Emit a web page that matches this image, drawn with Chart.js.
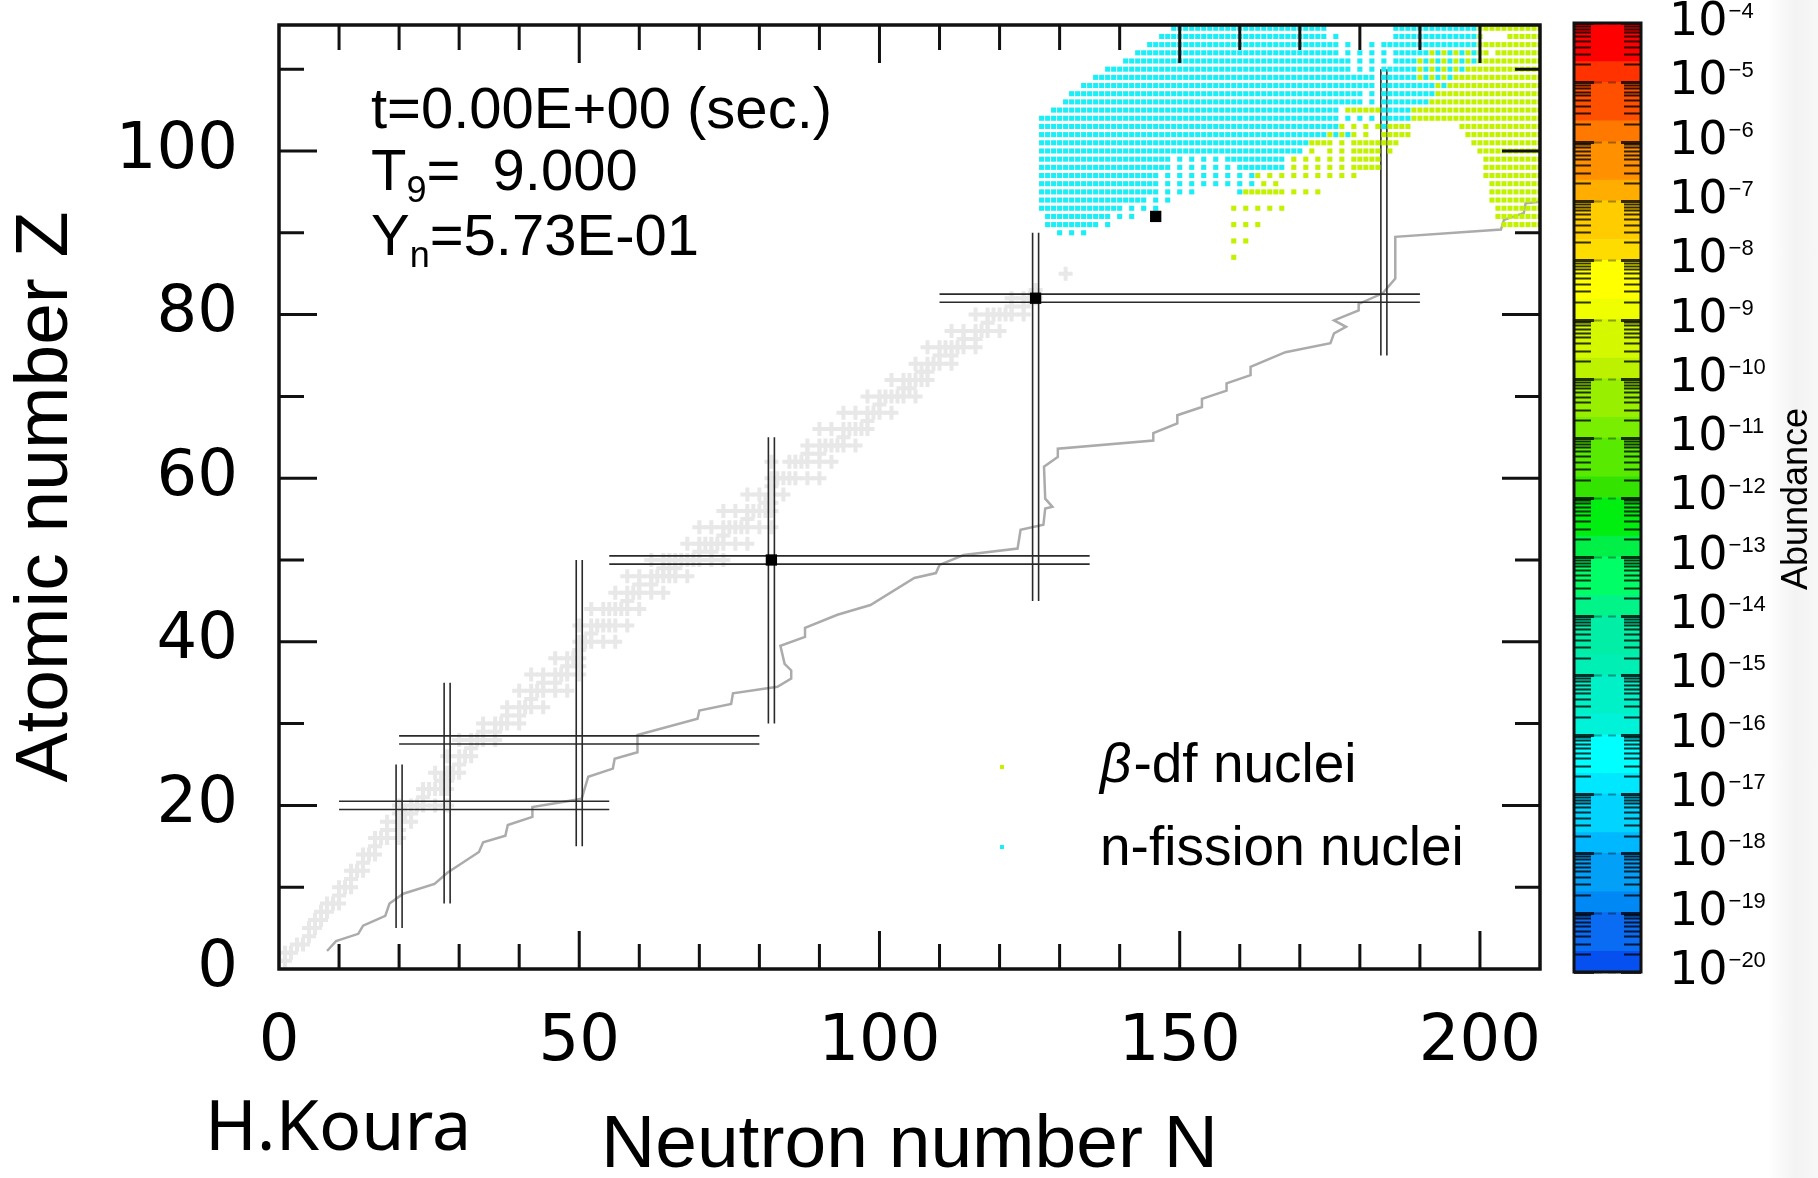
<!DOCTYPE html>
<html>
<head>
<meta charset="utf-8">
<script src="https://cdn.jsdelivr.net/npm/chart.js@4.4.0/dist/chart.umd.min.js"></script>
<style>
  html, body { margin: 0; padding: 0; }
  body { width: 1818px; height: 1178px; position: relative; overflow: hidden;
         background: linear-gradient(to right, #fff 0, #fff 1768px, #f3f3f3 1795px, #f7f7f7 1818px); }
  #chart { position: absolute; left: 0; top: 0; }
  #bar { position: absolute; left: 1560px; top: 0; }
</style>
</head>
<body>
<canvas id="chart" width="1560" height="1178"></canvas>
<canvas id="bar" width="258" height="1178"></canvas>
<script>
// ---- data ----

// stable nuclei (grey crosses): neutron numbers N for each Z (index = Z)
const stableN = [
  [], [0,1], [1,2], [3,4], [5], [5,6], [6,7], [7,8], [8,9,10], [10],
  [10,11,12], [12], [12,13,14], [14], [14,15,16], [16], [16,17,18,20], [18,20], [18,20,22], [20,21,22],
  [20,22,23,24,26,28], [24], [24,25,26,27,28], [27,28], [26,28,29,30], [30], [28,30,31,32], [32], [30,32,33,34,36], [34,36],
  [34,36,37,38,40], [38,40], [38,40,41,42,44], [42], [40,42,43,44,46,48], [44,46], [42,44,46,47,48,50], [48,50], [46,48,49,50], [50],
  [50,51,52,54,56], [52], [50,52,53,54,55,56,58], [], [52,54,55,56,57,58,60], [58], [56,58,59,60,62,64], [60,62], [58,60,62,63,64,65,66,68], [64,66],
  [62,64,65,66,67,68,69,70,72,74], [70,72], [68,70,71,72,73,74,76,78], [74], [70,72,74,75,76,77,78,80,82], [78], [74,76,78,79,80,81,82], [81,82], [78,80,82,84], [82],
  [82,83,84,85,86,88,90], [], [82,85,86,87,88,90,92], [88,90], [88,90,91,92,93,94,96], [94], [90,92,94,95,96,97,98], [98], [94,96,98,99,100,102], [100],
  [98,100,101,102,103,104,106], [104,105], [102,104,105,106,107,108], [107,108], [106,108,109,110,112], [110,112], [108,110,111,112,113,114,116], [114,116], [112,114,116,117,118,120], [118],
  [116,118,119,120,121,122,124], [122,124], [122,124,125,126], [126], [], [131]
];

// neutron drip line (grey stair line)
const dripN = [8, 9.5, 13.2, 14, 17.7, 18.4, 20.7, 25.9, 28.1, 33.3, 34, 37.7, 38.1, 42.2, 42.2, 50.4, 51.5, 55.6, 55.9, 59.7,
  59.7, 69.7, 70, 75.3, 75.6, 83, 85.3, 85.3, 84.2, 83.5, 87.6, 87.6, 93, 98.5, 105.8, 109.4, 110, 114, 123, 123.5,
  127.3, 127.6, 128.8, 127.6, 127.4, 129.7, 129.7, 145.6, 145.6, 149.6, 149.6, 153.7, 153.7, 157.8, 157.8, 161.8, 161.8, 167.6, 175.1, 175.7,
  177.7, 175.7, 179.8, 179.8, 183.8, 185.9, 185.9, 203.5, 204, 207.3, 207.6, 210];
const dripZ = [2.2, 3.4, 4.3, 5.3, 6.5, 8, 9.2, 10.4, 11.8, 14.3, 15.5, 16.3, 17.6, 18.6, 19.8, 20.8, 23.5, 24.5, 25.7, 26.5,
  28.6, 30.6, 31.6, 32.4, 33.7, 34.5, 35.5, 36.5, 37.3, 39.5, 40.6, 41.7, 43.3, 44.5, 47.8, 48.4, 49.4, 50.6, 51.4, 53.7,
  54.3, 56.3, 56.5, 57.5, 61.4, 62.6, 63.6, 64.6, 65.5, 66.7, 67.7, 68.7, 69.7, 70.7, 71.6, 72.6, 73.6, 75.4, 76.5, 77.7,
  78.5, 79.3, 80.5, 81.3, 82.6, 84.4, 89.5, 90.4, 91.6, 92.4, 93.6, 93.8];

// magic numbers (double lines)
const magicN = [20, 28, 50, 82, 126, 184];
const magicNZfrom = [5, 8, 15, 30, 45, 75];
const magicNZto = [25, 35, 50, 65, 90, 110];
const magicZ = [20, 28, 50, 82];
const magicZNfrom = [10, 20, 55, 110];
const magicZNto = [55, 80, 135, 190];

// marked nuclei (black squares) [N, Z]
const markedNuclei = [[82, 50], [126, 82], [146, 92]];

// n-fission nuclei (cyan): [Z, N from, N to, step]
const fissionRows = [
  [115,149,174],[115,186,199],
  [114,147,174],[114,176,176],[114,186,199],
  [113,145,176],[113,178,178],[113,182,182],[113,184,199],
  [112,143,176],[112,178,184,2],[112,186,191],[112,193,199,2],
  [111,141,178],[111,180,184,2],[111,186,189],[111,191,199,2],
  [110,138,178],[110,180,182,2],[110,184,189],[110,191,197,2],
  [109,136,182],[109,184,189],[109,191,195,2],
  [108,134,182],[108,184,192],[108,194,194],
  [107,132,180],[107,182,182],[107,184,192],
  [106,131,180],[106,182,182],[106,184,191],
  [105,129,176],[105,184,188],
  [104,127,176],[104,178,182,2],[104,184,188],
  [103,127,176],[103,184,184],
  [102,127,173],[102,174,178,2],
  [101,127,171],
  [100,127,170],
  [99,127,148],[99,150,156,2],[99,158,167],
  [98,127,148],[98,150,158,2],[98,160,167],
  [97,127,146],[97,148,162,2],
  [96,127,146],[96,148,162,2],
  [95,127,146],[95,148,152,2],[95,160,160],
  [94,127,144],[94,146,148,2],
  [93,127,140],[93,142,146,2],
  [92,128,138],[92,140,142,2],
  [91,128,136],[91,138,138],
  [90,130,134,2]
];

// beta-delayed fission nuclei (yellow-green): [Z, N from, N to, step]
const betaDfRows = [
  [115,200,210],
  [114,200,200],[114,205,210],
  [113,200,210],
  [112,192,198,2],[112,200,201],[112,203,210],
  [111,190,198,2],[111,200,210],
  [110,190,196,2],[110,198,210],
  [109,190,194,2],[109,196,210],
  [108,193,193],[108,195,210],
  [107,193,210],
  [106,192,210],
  [105,178,183],[105,189,210],
  [104,189,210],
  [103,177,183,2],[103,185,188],[103,197,210],
  [102,175,181,2],[102,184,188],[102,198,210],
  [101,172,174],[101,175,177,2],[101,179,186],[101,199,210],
  [100,172,172],[100,175,177,2],[100,179,183],[100,185,185],[100,200,210],
  [99,169,177,2],[99,179,183],[99,201,210],
  [98,169,177,2],[98,179,183],[98,201,210],
  [97,163,179,2],[97,201,210],
  [96,164,166,2],[96,202,210],
  [95,161,167],[95,169,173,2],[95,202,210],
  [94,202,210],
  [93,159,167,2],[93,203,210],
  [92,203,210],
  [91,159,163,2],[91,204,210],
  [89,159,161,2],
  [87,159,159]
];

// axis ticks
const xTickValues = [10,20,30,40,50,60,70,80,90,100,110,120,130,140,150,160,170,180,190,200];
const yTickValues = [10,20,30,40,50,60,70,80,90,100,110];

// colour bar: decades of abundance, from 10^-20 upwards
const abundanceTicks = [-4,-5,-6,-7,-8,-9,-10,-11,-12,-13,-14,-15,-16,-17,-18,-19,-20];
const decadeStart = [-20,-19,-18,-17,-16,-15,-14,-13,-12,-11,-10,-9,-8,-7,-6,-5];
const upperColors = ['#0a6cf2','#03a0f8','#00d4ff','#00ffff','#00f0c8','#00eea6','#00ff66','#00ee10','#58ea00','#98f000','#d4f800','#ffff00','#ffcc00','#ff9000','#ff5000','#ff0000'];
const lowerColors = ['#0650f0','#0088f4','#00b8ff','#00e8ff','#00f2d8','#00efb4','#00f488','#00f048','#34e400','#7aee00','#bcf200','#f0ff00','#ffdc00','#ffae00','#ff7800','#ff3200'];

// ---- build chart ----
const CYAN = '#1aeef6';
const LIME = '#c2f200';

function cells(rows) {
  const pts = [];
  rows.forEach(([z, n0, n1, step]) => {
    for (let n = n0; n <= n1; n += (step || 1)) pts.push({x: n, y: z});
  });
  return pts;
}

const stablePts = [];
stableN.forEach((ns, z) => ns.forEach(n => stablePts.push({x: n, y: z})));

const datasets = [];
datasets.push({
  label: 'marked', data: markedNuclei.map(([n, z]) => ({x: n, y: z})),
  pointStyle: 'rect', pointRadius: 8, pointBackgroundColor: '#000', pointBorderWidth: 0, order: 0
});
datasets.push({
  label: 'n-fission nuclei', data: cells(fissionRows),
  pointStyle: 'rect', pointRadius: 3.6, pointBackgroundColor: CYAN, pointBorderWidth: 0, order: 1
});
datasets.push({
  label: 'β-df nuclei', data: cells(betaDfRows),
  pointStyle: 'rect', pointRadius: 3.6, pointBackgroundColor: LIME, pointBorderWidth: 0, order: 1
});
magicN.forEach((n, i) => {
  [-0.5, 0.5].forEach(d => datasets.push({
    data: [{x: n + d, y: magicNZfrom[i]}, {x: n + d, y: magicNZto[i]}],
    showLine: true, pointRadius: 0, borderColor: '#2a2a2a', borderWidth: 1.6, order: 2
  }));
});
magicZ.forEach((z, i) => {
  [-0.5, 0.5].forEach(d => datasets.push({
    data: [{x: magicZNfrom[i], y: z + d}, {x: magicZNto[i], y: z + d}],
    showLine: true, pointRadius: 0, borderColor: '#2a2a2a', borderWidth: 1.6, order: 2
  }));
});
datasets.push({
  label: 'drip line', data: dripN.map((n, i) => ({x: n, y: dripZ[i]})),
  showLine: true, pointRadius: 0, borderColor: '#ababab', borderWidth: 2.5, order: 3
});
datasets.push({
  label: 'stable', data: stablePts,
  pointStyle: 'cross', pointRadius: 7, pointBorderWidth: 4, pointBorderColor: '#e8e8e8', order: 4
});

const overlay = {
  id: 'overlay',
  afterDatasetsDraw(chart) {
    const {ctx, chartArea: a, scales: {x, y}} = chart;
    ctx.save();
    ctx.strokeStyle = '#111';
    ctx.lineWidth = 3;
    ctx.beginPath();
    xTickValues.forEach(v => {
      const px = x.getPixelForValue(v);
      const len = v % 50 === 0 ? 38 : 25;
      ctx.moveTo(px, a.bottom); ctx.lineTo(px, a.bottom - len);
      ctx.moveTo(px, a.top); ctx.lineTo(px, a.top + len);
    });
    yTickValues.forEach(v => {
      const py = y.getPixelForValue(v);
      const len = v % 20 === 0 ? 38 : 25;
      ctx.moveTo(a.left, py); ctx.lineTo(a.left + len, py);
      ctx.moveTo(a.right, py); ctx.lineTo(a.right - len, py);
    });
    ctx.stroke();
    ctx.lineWidth = 3.5;
    ctx.strokeRect(a.left, a.top, a.right - a.left, a.bottom - a.top);
    ctx.restore();
  },
  afterDraw(chart) {
    const ctx = chart.ctx;
    ctx.save();
    ctx.fillStyle = '#000';
    ctx.textBaseline = 'alphabetic';
    ctx.textAlign = 'left';
    const big = '58px "Liberation Sans"', small = '36px "Liberation Sans"';
    ctx.font = big;
    ctx.fillText('t=0.00E+00 (sec.)', 371, 128);
    // T9 line
    let x0 = 371;
    ctx.fillText('T', x0, 190); x0 += ctx.measureText('T').width;
    ctx.font = small; ctx.fillText('9', x0, 202); x0 += ctx.measureText('9').width;
    ctx.font = big; ctx.fillText('=  9.000', x0, 190);
    // Yn line
    x0 = 371;
    ctx.fillText('Y', x0, 255); x0 += ctx.measureText('Y').width;
    ctx.font = small; ctx.fillText('n', x0, 267); x0 += ctx.measureText('n').width;
    ctx.font = big; ctx.fillText('=5.73E-01', x0, 255);

    // legend
    ctx.fillStyle = LIME; ctx.fillRect(1000, 765, 4, 4);
    ctx.fillStyle = CYAN; ctx.fillRect(1000, 845, 4, 4);
    ctx.fillStyle = '#000';
    ctx.font = 'italic 55px "Liberation Sans"';
    ctx.fillText('β', 1100, 782);
    const bw = ctx.measureText('β').width;
    ctx.font = '55px "Liberation Sans"';
    ctx.fillText('-df nuclei', 1100 + bw + 2, 782);
    ctx.fillText('n-fission nuclei', 1100, 865);

    // author
    ctx.font = '70px "Noto Sans"';
    ctx.fillText('H.Koura', 205, 1150);
    ctx.restore();
  }
};

Chart.defaults.font.family = '"Liberation Sans", sans-serif';
Chart.defaults.color = '#000';

new Chart(document.getElementById('chart'), {
  type: 'scatter',
  data: {datasets},
  options: {
    responsive: false,
    animation: false,
    events: [],
    layout: {padding: {left: 0, top: 25, right: 20, bottom: 0}},
    plugins: {legend: {display: false}, tooltip: {enabled: false}},
    scales: {
      x: {
        type: 'linear', min: 0, max: 210,
        grid: {display: false, drawTicks: false},
        border: {display: false},
        ticks: {stepSize: 10, autoSkip: false, maxRotation: 0, includeBounds: false, padding: 36,
                font: {family: 'DejaVu Sans', size: 64}, color: '#000',
                callback: v => v % 50 === 0 ? v : ''},
        title: {display: true, text: 'Neutron number N', color: '#000',
                font: {family: 'Liberation Sans', size: 75, lineHeight: 0.8}, padding: {top: 0, bottom: 2}},
        afterFit(s) { s.height = 209; s.paddingLeft = 0; s.paddingRight = 0; }
      },
      y: {
        type: 'linear', min: 0, max: 115.4,
        grid: {display: false, drawTicks: false},
        border: {display: false},
        ticks: {stepSize: 10, autoSkip: false, includeBounds: false, padding: 41,
                font: {family: 'DejaVu Sans', size: 64}, color: '#000',
                callback: v => v % 20 === 0 ? v : ''},
        title: {display: true, text: 'Atomic number Z', color: '#000',
                font: {family: 'Liberation Sans', size: 75, lineHeight: 0.8}, padding: {top: 16, bottom: 0}},
        afterFit(s) { s.width = 279; s.paddingTop = 0; s.paddingBottom = 0; }
      }
    }
  },
  plugins: [overlay]
});

// ---- colour bar ----
const splitAt = 0.35;
const barSets = [];
decadeStart.forEach((e, i) => {
  barSets.push({data: [[e, e + splitAt]], backgroundColor: lowerColors[i]});
  barSets.push({data: [[e + splitAt, e + 1]], backgroundColor: upperColors[i]});
});
barSets.forEach(d => Object.assign(d, {grouped: false, barPercentage: 1, categoryPercentage: 1, borderWidth: 0}));

const barDecor = {
  id: 'barDecor',
  afterDatasetsDraw(chart) {
    const {ctx, chartArea: a, scales: {y}} = chart;
    ctx.save();
    ctx.strokeStyle = 'rgba(0,0,0,0.8)';
    ctx.lineWidth = 2;
    ctx.beginPath();
    decadeStart.forEach(e => {
      for (let m = 2; m <= 9; m++) {
        const py = Math.round(y.getPixelForValue(e + Math.log10(m))) + 0.5;
        ctx.moveTo(a.left, py); ctx.lineTo(a.left + 17, py);
        ctx.moveTo(a.right - 17, py); ctx.lineTo(a.right, py);
      }
    });
    ctx.stroke();
    ctx.lineWidth = 3;
    ctx.beginPath();
    abundanceTicks.forEach(e => {
      const py = Math.round(y.getPixelForValue(e)) + 0.5;
      ctx.moveTo(a.left, py); ctx.lineTo(a.left + 20, py);
      ctx.moveTo(a.right - 20, py); ctx.lineTo(a.right, py);
    });
    ctx.stroke();
    ctx.strokeStyle = 'rgba(0,0,0,0.35)';
    ctx.lineWidth = 2;
    ctx.setLineDash([8, 6]);
    ctx.beginPath();
    abundanceTicks.forEach(e => {
      const py = Math.round(y.getPixelForValue(e)) + 0.5;
      ctx.moveTo(a.left + 20, py); ctx.lineTo(a.right - 20, py);
    });
    ctx.stroke();
    ctx.setLineDash([]);
    ctx.strokeStyle = '#111';
    ctx.lineWidth = 3;
    ctx.strokeRect(a.left, a.top, a.right - a.left, a.bottom - a.top);

    // labels 10^n
    ctx.fillStyle = '#000';
    ctx.textAlign = 'left';
    abundanceTicks.forEach(e => {
      const py = y.getPixelForValue(e);
      ctx.font = '46px "DejaVu Sans"';
      ctx.textBaseline = 'middle';
      ctx.fillText('10', 109, py);
      const w = ctx.measureText('10').width;
      ctx.font = '22px "Liberation Sans"';
      ctx.textBaseline = 'alphabetic';
      ctx.fillText('\u2212' + Math.abs(e), 109 + w + 1, py - 5);
    });
    // title
    ctx.translate(237, 499);
    ctx.rotate(-Math.PI / 2);
    ctx.textAlign = 'center';
    ctx.textBaseline = 'middle';
    ctx.font = '36px "Liberation Sans"';
    ctx.fillText('Abundance', 0, 0);
    ctx.restore();
  }
};

new Chart(document.getElementById('bar'), {
  type: 'bar',
  data: {labels: ['Abundance'], datasets: barSets},
  options: {
    responsive: false,
    animation: false,
    events: [],
    layout: {padding: {left: 14, right: 177, top: 23, bottom: 206}},
    plugins: {legend: {display: false}, tooltip: {enabled: false}},
    scales: {
      x: {display: false},
      y: {display: false, type: 'linear', min: -20, max: -4}
    }
  },
  plugins: [barDecor]
});
</script>
</body>
</html>
